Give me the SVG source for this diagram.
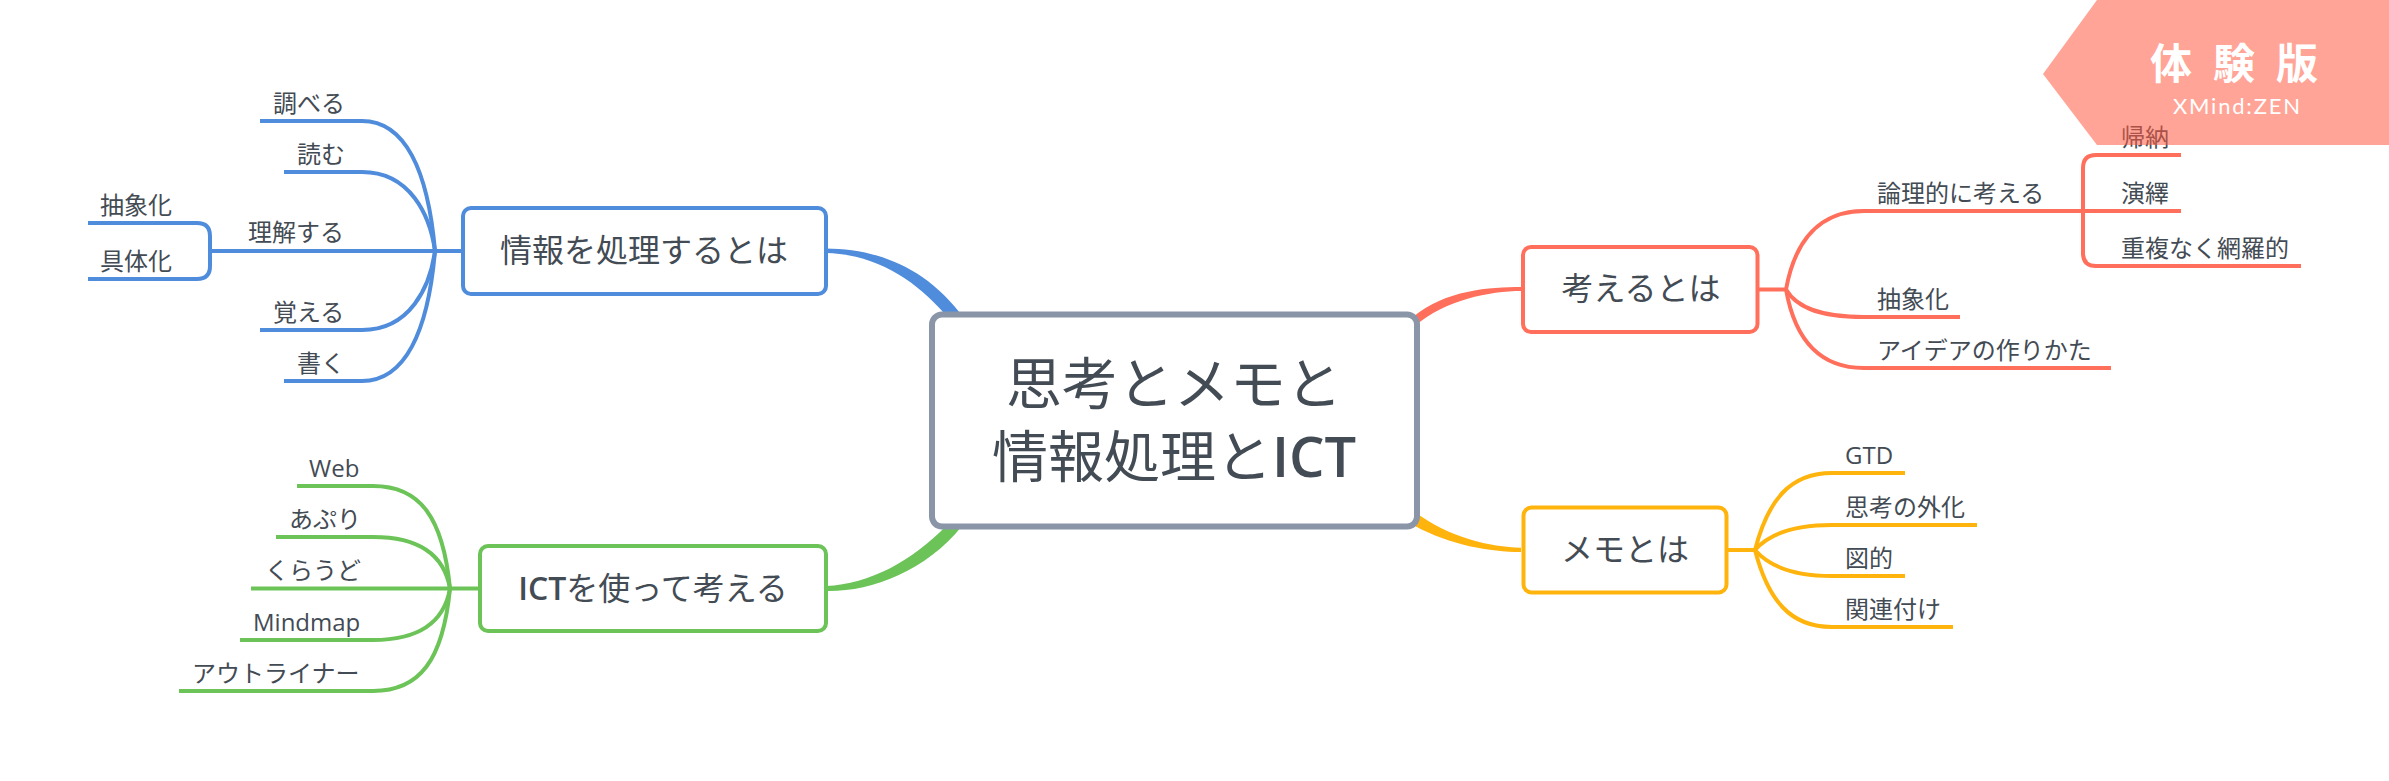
<svg xmlns="http://www.w3.org/2000/svg" width="2389" height="781" viewBox="0 0 2389 781">
<style>
text{font-family:"Open Sans","Noto Sans CJK JP",sans-serif;fill:#434b54}
.leaf{font-size:24px}
.main{font-size:32px;text-anchor:middle}
.root{font-size:56px;text-anchor:middle}
.b{font-weight:600}
.box{fill:#fff;stroke-width:4}
.ln{fill:none;stroke-width:4}
.blue{stroke:#508cdc}.green{stroke:#6cc458}.red{stroke:#ff6f5b}.yellow{stroke:#ffb30d}
</style>
<rect width="2389" height="781" fill="#fff"/>
<g id="connectors">
<path fill="#508cdc" d="M826 248.500C870 249 920 262 960 313L944 313C915 280 875 254 826 253Z"/>
<path fill="#6cc458" d="M826 586C870 584 912 561 946 526L962 526C925 572 870 592 826 591Z"/>
<path fill="#ff6f5b" d="M1521 287C1490 287 1445 290 1413 317L1415 326C1445 300 1490 291 1521 291Z"/>
<path fill="#ffb30d" d="M1521 547.700C1490 547 1450 538 1415 512L1415 526C1450 545 1490 552 1521 552Z"/>
<g class="ln blue">
<path d="M435 251C428 170 405 121 362 121H260"/>
<path d="M435 251C430 215 410 172 362 172H284"/>
<path d="M462 251H211"/>
<path d="M435 251C430 287 410 330 362 330H260"/>
<path d="M435 251C428 332 405 381 362 381H284"/>
<path d="M88 223H197Q210 223 210 236V266Q210 279 197 279H88"/>
</g>
<g class="ln green">
<path d="M450 588.500C443 517 420 486 373 486H297"/>
<path d="M450 588.500C445 560 425 537 373 537H276"/>
<path d="M480 588.500H251"/>
<path d="M450 588.500C445 617 425 640 373 640H240"/>
<path d="M450 588.500C443 660 420 691 373 691H179"/>
</g>
<g class="ln red">
<path d="M1759 289.500H1786C1795 240 1820 211 1864 211H2181"/>
<path d="M1786 289.500C1795 305 1815 317 1864 317H1960"/>
<path d="M1786 289.500C1795 340 1820 368 1864 368H2111"/>
<path d="M2181 155H2096Q2083 155 2083 168V253Q2083 266 2096 266H2301"/>
</g>
<g class="ln yellow">
<path d="M1728 550H1755C1768 500 1790 473 1832 473H1905"/>
<path d="M1755 550C1768 535 1790 525 1832 525H1977"/>
<path d="M1755 550C1768 565 1790 576 1832 576H1905"/>
<path d="M1755 550C1768 600 1790 627 1832 627H1953"/>
</g>
</g>
<g id="root"><rect x="932" y="314.500" width="485" height="212" rx="10" fill="#fff" stroke="#8a95a8" stroke-width="6"/>
<text class="root" x="1174" y="404">思考とメモと</text>
<text class="root" x="1174" y="477">情報処理と<tspan class="b">ICT</tspan></text></g>
<g id="n-info"><rect class="box blue" x="463" y="208" width="363" height="86" rx="8"/><text class="main" x="644" y="262">情報を処理するとは</text></g>
<g id="n-ict"><rect class="box green" x="480" y="546" width="346" height="85" rx="8"/><text class="main" x="653" y="600"><tspan class="b">ICT</tspan>を使って考える</text></g>
<g id="n-think"><rect class="box red" x="1523" y="247" width="234.500" height="85" rx="8"/><text class="main" x="1641" y="300">考えるとは</text></g>
<g id="n-memo"><rect class="box yellow" x="1523.500" y="507.500" width="203" height="85" rx="8"/><text class="main" x="1625" y="561">メモとは</text></g>
<g id="leaf-blue" class="leaf">
<g id="l1"><text x="273" y="112">調べる</text></g>
<g id="l2"><text x="297" y="163">読む</text></g>
<g id="l3"><text x="248" y="241">理解する</text></g>
<g id="l4"><text x="273" y="321">覚える</text></g>
<g id="l5"><text x="297" y="372">書く</text></g>
<g id="l6"><text x="100" y="214">抽象化</text></g>
<g id="l7"><text x="100" y="270">具体化</text></g>
</g>
<g id="leaf-green" class="leaf">
<g id="l8"><text x="309" y="477">Web</text></g>
<g id="l9"><text x="289" y="528">あぷり</text></g>
<g id="l10"><text x="265" y="579">くらうど</text></g>
<g id="l11"><text x="253" y="631">Mindmap</text></g>
<g id="l12"><text x="192" y="682">アウトライナー</text></g>
</g>
<g id="leaf-red" class="leaf">
<g id="l13"><text x="1877" y="202">論理的に考える</text></g>
<g id="l14"><text x="1877" y="308">抽象化</text></g>
<g id="l15"><text x="1877" y="359">アイデアの作りかた</text></g>
<g id="l16"><text x="2121" y="146">帰納</text></g>
<g id="l17"><text x="2121" y="202">演繹</text></g>
<g id="l18"><text x="2121" y="257">重複なく網羅的</text></g>
</g>
<g id="leaf-yellow" class="leaf">
<g id="l19"><text x="1845" y="464">GTD</text></g>
<g id="l20"><text x="1845" y="516">思考の外化</text></g>
<g id="l21"><text x="1845" y="567">図的</text></g>
<g id="l22"><text x="1845" y="618">関連付け</text></g>
</g>
<g id="trial-badge">
<polygon points="2097,0 2389,0 2389,145 2097,145 2043,74" fill="#ff5940" opacity=".55"/>
<text x="2150" y="79" font-size="42" font-weight="700" letter-spacing="21" style="fill:#fff">体験版</text>
<text x="2173" y="114" font-size="22" textLength="127" lengthAdjust="spacing" style="fill:#fff;font-family:Lato,sans-serif">XMind:ZEN</text>
</g>
</svg>
